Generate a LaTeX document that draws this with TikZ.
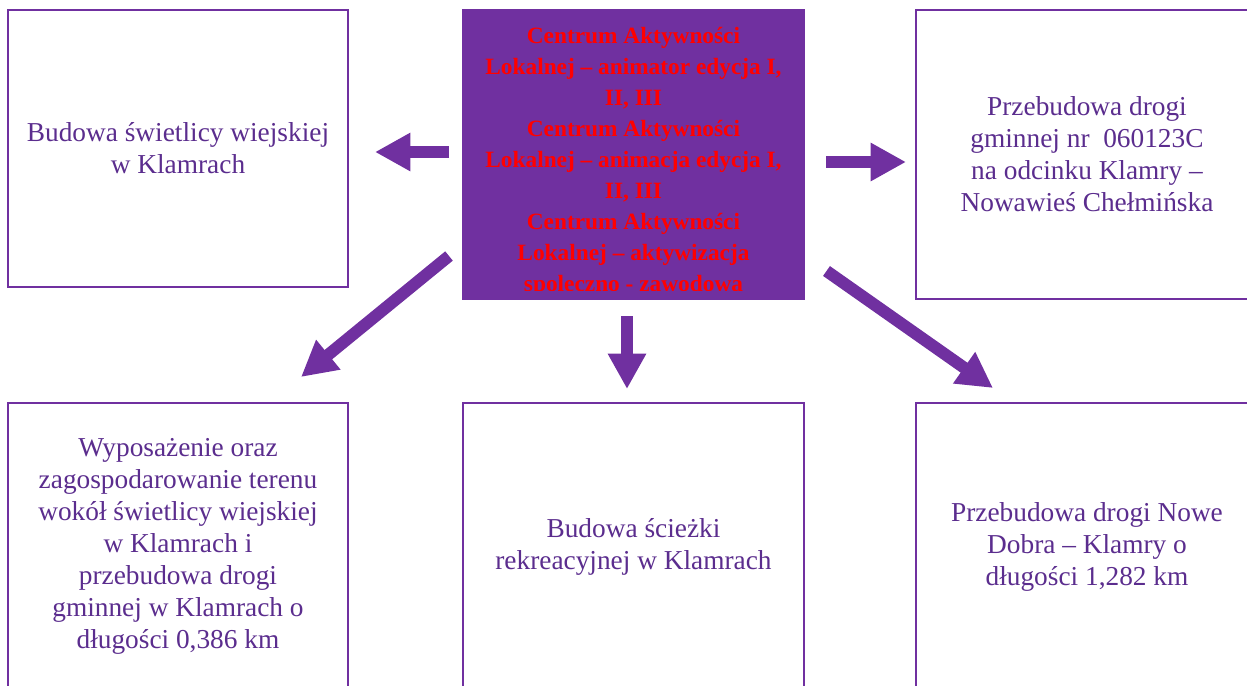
\documentclass[tikz,border=0pt]{standalone}
\usepackage{fontspec}
\setmainfont{Liberation Serif}
\usetikzlibrary{arrows.meta}
\definecolor{purp}{HTML}{7030A0}
\definecolor{txtp}{HTML}{5B2D8E}
\definecolor{redt}{HTML}{FF0000}
\begin{document}
\begin{tikzpicture}[x=0.75pt,y=-0.75pt,
  box/.style={draw=purp,line width=1.5pt,fill=white,inner sep=0pt,align=center,
    text=txtp,font=\fontsize{20.5}{24}\selectfont},
  cbox/.style={fill=purp,draw=purp,line width=1pt,inner sep=0pt},
  ctext/.style={align=center,text=redt,inner sep=0pt,font=\fontsize{17.5}{23.25}\selectfont\bfseries},
  blockarrow/.style={draw=purp,line width=9pt,line cap=butt,
    -{Triangle[width=27pt,length=26.5pt]}}]
\useasboundingbox (0,0) rectangle (1247,686);
\clip (0,0) rectangle (1247,686);

% boxes
\node[box,minimum width=255pt,minimum height=207.75pt] (TL) at (178,148.5)
  {Budowa świetlicy wiejskiej\\w Klamrach};
\node[cbox,minimum width=255.75pt,minimum height=216.75pt] (C) at (633.5,154.5) {};
\node[box,minimum width=256.5pt,minimum height=216.75pt] (TR) at (1087,154.5)
  {Przebudowa drogi\\gminnej nr~~060123C\\na odcinku Klamry –\\Nowawieś Chełmińska};
\node[box,minimum width=255pt,minimum height=215.25pt] (BL) at (178,546.5)
  {Wyposażenie oraz\\zagospodarowanie terenu\\wokół świetlicy wiejskiej\\w Klamrach i\\przebudowa drogi\\gminnej w Klamrach o\\długości 0,386 km};
\node[box,minimum width=255.75pt,minimum height=215.25pt] (BM) at (633.5,546.5)
  {Budowa ścieżki\\rekreacyjnej w Klamrach};
\node[box,minimum width=256.5pt,minimum height=215.25pt] (BR) at (1087,546.5)
  {Przebudowa drogi Nowe\\Dobra – Klamry o\\długości 1,282 km};

% centre text, clipped like the original
\begin{scope}
  \clip (463,10) rectangle (804,290);
  \node[ctext] (Ct) at (633.5,161.5)
    {Centrum Aktywności\\Lokalnej – animator edycja I,\\II, III\\Centrum Aktywności\\Lokalnej – animacja edycja I,\\II, III\\Centrum Aktywności\\Lokalnej – aktywizacja\\spoleczno - zawodowa};
\end{scope}

% arrows
\coordinate (aLs) at (449,152);   \coordinate (aLe) at (375,152);
\coordinate (aRs) at (826,162);   \coordinate (aRe) at (906,162);
\coordinate (aDs) at (627,316);   \coordinate (aDe) at (627,389);
\coordinate (aSWs) at (449,256);  \coordinate (aSWe) at (301,377);
\coordinate (aSEs) at (826.5,271); \coordinate (aSEe) at (993,388);
\draw[blockarrow] (aLs) -- (aLe);
\draw[blockarrow] (aRs) -- (aRe);
\draw[blockarrow] (aDs) -- (aDe);
\draw[blockarrow] (aSWs) -- (aSWe);
\draw[blockarrow] (aSEs) -- (aSEe);
\end{tikzpicture}
\end{document}
